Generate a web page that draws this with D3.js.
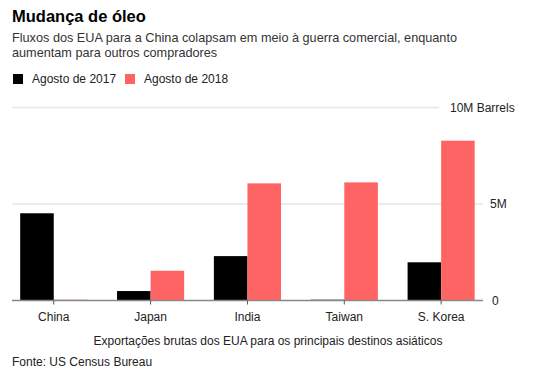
<!DOCTYPE html>
<html>
<head>
<meta charset="utf-8">
<script src="https://cdn.jsdelivr.net/npm/d3@7"></script>
<style>
  body { margin: 0; background: #fff; }
  svg { font-family: "Liberation Sans", Arial, sans-serif; }
</style>
</head>
<body>
<svg id="chart" width="540" height="374"></svg>
<script>
const categories = ["China", "Japan", "India", "Taiwan", "S. Korea"];
const seriesNames = ["Agosto de 2017", "Agosto de 2018"];
const values2017 = [4.52, 0.49, 2.30, 0.04, 1.98];
const values2018 = [0.04, 1.54, 6.07, 6.12, 8.28];
const tickValues = [0, 5, 10];
const tickLabels = ["0", "5M", "10M Barrels"];
const colors = ["#000000", "#ff6464"];

const svg = d3.select("#chart");

// Title & subtitle
svg.append("text").attr("x", 12).attr("y", 22)
  .attr("font-size", 16.5).attr("font-weight", "bold").attr("fill", "#000")
  .text("Mudança de óleo");
const sub = ["Fluxos dos EUA para a China colapsam em meio à guerra comercial, enquanto",
             "aumentam para outros compradores"];
sub.forEach((s, i) => svg.append("text").attr("x", 12).attr("y", 42 + i * 15)
  .attr("font-size", 12.7).attr("fill", "#333").text(s));

// Legend
const legendX = [13, 125];
seriesNames.forEach((n, i) => {
  svg.append("rect").attr("x", legendX[i]).attr("y", 74).attr("width", 10).attr("height", 10)
    .attr("fill", colors[i]);
  svg.append("text").attr("x", legendX[i] + 19).attr("y", 83).attr("font-size", 12)
    .attr("fill", "#222").text(n);
});

// Scales
const y = d3.scaleLinear().domain([0, 10]).range([300.5, 107.5]);
const x = d3.scaleBand().domain(categories).range([20.2, 474.7]).paddingInner(0.307).paddingOuter(0);
const xs = d3.scaleBand().domain([0, 1]).range([0, x.bandwidth()]);

// Gridlines
const gridEnd = [483, 483, 439];
tickValues.forEach((t, i) => {
  if (t === 0) return;
  svg.append("line").attr("x1", 12).attr("x2", gridEnd[i])
    .attr("y1", y(t)).attr("y2", y(t))
    .attr("stroke", "#e6e6e6").attr("stroke-width", 1.5);
});
// tick labels
const labelX = [492, 490, 450];
tickValues.forEach((t, i) => {
  svg.append("text").attr("x", labelX[i]).attr("y", y(t)).attr("dy", "0.35em")
    .attr("font-size", 12).attr("fill", "#222").text(tickLabels[i]);
});

// Bars
const data = categories.map((c, i) => ({ c, v: [values2017[i], values2018[i]] }));
const g = svg.append("g");
data.forEach(d => {
  d.v.forEach((v, s) => {
    g.append("rect")
      .attr("x", x(d.c) + xs(s))
      .attr("y", y(v))
      .attr("width", xs.bandwidth())
      .attr("height", y(0) - y(v))
      .attr("fill", colors[s]);
  });
});

// Zero axis
svg.append("line").attr("x1", 12).attr("x2", 483).attr("y1", y(0)).attr("y2", y(0))
  .attr("stroke", "#888").attr("stroke-width", 1.5);
const xAxis = d3.axisBottom(x).tickSize(4).tickPadding(8);
const ax = svg.append("g").attr("transform", `translate(0,${y(0)})`).call(xAxis);
ax.select(".domain").remove();
ax.selectAll(".tick line").attr("stroke", "#555");
ax.selectAll(".tick text").attr("font-size", 12).attr("fill", "#222")
  .attr("font-family", "Liberation Sans, Arial, sans-serif");

// Axis title
svg.append("text").attr("x", 268).attr("y", 345).attr("text-anchor", "middle")
  .attr("font-size", 12).attr("fill", "#222")
  .text("Exportações brutas dos EUA para os principais destinos asiáticos");

// Source
svg.append("text").attr("x", 12).attr("y", 366).attr("font-size", 12).attr("fill", "#222")
  .text("Fonte: US Census Bureau");
</script>
</body>
</html>
